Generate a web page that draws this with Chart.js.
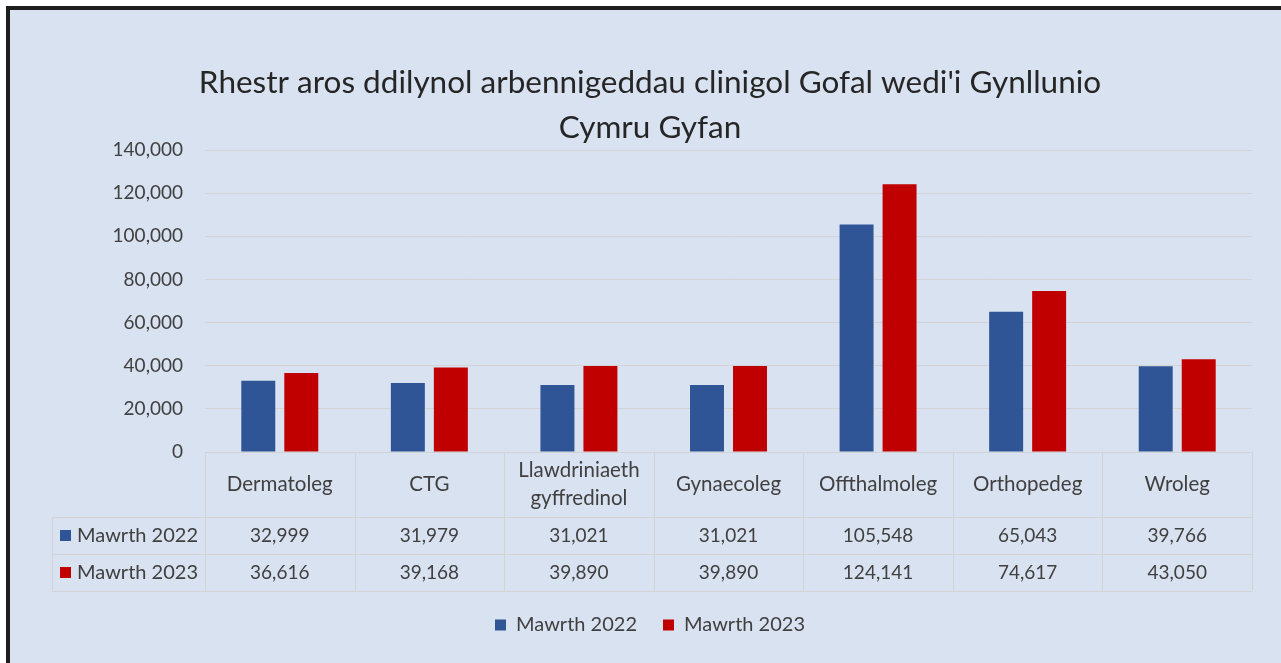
<!DOCTYPE html>
<html>
<head>
<meta charset="utf-8">
<script src="https://cdn.jsdelivr.net/npm/chart.js@4.4.1/dist/chart.umd.min.js"></script>
<style>
    html, body { margin: 0; padding: 0; background: #ffffff; overflow: hidden; }
    #frame {
        position: absolute; left: 6px; top: 6px; width: 1300px; height: 700px;
        border: 4px solid #1e1e1e; background: #d9e2f0;
    }
    #chart { position: absolute; left: 0; top: 0; }
</style>
</head>
<body>
<div id="frame"></div>
<canvas id="chart" width="1281" height="663"></canvas>
<script>
"use strict";

// data
const categories = ['Dermatoleg', 'CTG', ['Llawdriniaeth', 'gyffredinol'], 'Gynaecoleg', 'Offthalmoleg', 'Orthopedeg', 'Wroleg'];
const seriesNames = ['Mawrth 2022', 'Mawrth 2023'];
const mawrth2022 = [32999, 31979, 31021, 31021, 105548, 65043, 39766];
const mawrth2023 = [36616, 39168, 39890, 39890, 124141, 74617, 43050];
const titleLines = ['Rhestr aros ddilynol arbennigeddau clinigol Gofal wedi\'i Gynllunio', 'Cymru Gyfan'];

const blue = '#2f5597';
const red = '#c00000';
const textColor = '#404040';
const titleColor = '#262626';
const lineColor = '#d3d3d6';
const fontFamily = 'Lato, "Noto Sans", sans-serif';

const fmt = v => v.toLocaleString('en-US');

// data table under the x axis (Excel style)
const dataTable = {
    id: 'dataTable',
    afterDraw(chart) {
        const ctx = chart.ctx;
        const x = chart.scales.x;
        const top = chart.chartArea.bottom;
        const colW = x.width / categories.length;
        const headBottom = top + 65;
        const rowH = 37;
        const labelLeft = 52;
        const rows = [mawrth2022, mawrth2023];
        const colors = [blue, red];

        ctx.save();
        ctx.strokeStyle = lineColor;
        ctx.lineWidth = 1;
        ctx.beginPath();
        // vertical lines of the columns
        for (let i = 0; i <= categories.length; i++) {
            const px = Math.round(x.left + i * colW) + 0.5;
            ctx.moveTo(px, top);
            ctx.lineTo(px, headBottom + rowH * 2);
        }
        // horizontal lines
        for (let r = 0; r <= 2; r++) {
            const py = Math.round(headBottom + r * rowH) + 0.5;
            ctx.moveTo(labelLeft, py);
            ctx.lineTo(x.right, py);
        }
        ctx.moveTo(labelLeft + 0.5, headBottom);
        ctx.lineTo(labelLeft + 0.5, headBottom + rowH * 2);
        ctx.stroke();

        ctx.fillStyle = textColor;
        ctx.textAlign = 'center';
        ctx.textBaseline = 'middle';
        categories.forEach((cat, i) => {
            const cx = x.getPixelForValue(i);
            const lines = Array.isArray(cat) ? cat : [cat];
            const mid = (top + headBottom) / 2;
            ctx.font = '20.5px ' + fontFamily;
            lines.forEach((line, k) => {
                ctx.fillText(line, cx, mid + (k - (lines.length - 1) / 2) * 28);
            });
            ctx.font = '19px ' + fontFamily;
            rows.forEach((row, r) => {
                ctx.fillText(fmt(row[i]), cx, headBottom + rowH * r + rowH / 2);
            });
        });

        ctx.textAlign = 'left';
        ctx.font = '20px ' + fontFamily;
        rows.forEach((row, r) => {
            const cy = headBottom + rowH * r + rowH / 2;
            ctx.fillStyle = colors[r];
            ctx.fillRect(60, cy - 5.5, 11, 11);
            ctx.fillStyle = textColor;
            ctx.fillText(seriesNames[r], 77, cy);
        });
        ctx.restore();
    }
};

const chart = new Chart(document.getElementById('chart'), {
    type: 'bar',
    data: {
        labels: categories,
        datasets: [
            { label: seriesNames[0], data: mawrth2022, backgroundColor: blue },
            { label: seriesNames[1], data: mawrth2023, backgroundColor: red }
        ]
    },
    options: {
        responsive: false,
        animation: false,
        devicePixelRatio: 1,
        datasets: {
            bar: { categoryPercentage: 0.575, barPercentage: 0.79 }
        },
        layout: { padding: { left: 48, right: 29, top: 0, bottom: 18 } },
        scales: {
            x: {
                grid: { display: false },
                border: { display: false },
                ticks: { display: false },
                afterFit(scale) { scale.height = 137; }
            },
            y: {
                min: 0,
                max: 140000,
                ticks: {
                    stepSize: 20000,
                    padding: 22,
                    color: textColor,
                    font: { size: 19, family: fontFamily },
                    callback: v => fmt(v)
                },
                grid: { color: lineColor, drawTicks: false },
                border: { display: false },
                afterFit(scale) { scale.width = 157; }
            }
        },
        plugins: {
            title: {
                display: true,
                text: titleLines,
                color: titleColor,
                font: { size: 31.5, family: fontFamily, weight: 'normal', lineHeight: 1.43 },
                padding: { top: 60, bottom: 0 }
            },
            legend: {
                position: 'bottom',
                labels: {
                    boxWidth: 11,
                    boxHeight: 11,
                    padding: 26,
                    color: textColor,
                    font: { size: 20, family: fontFamily }
                }
            },
            tooltip: { enabled: false }
        }
    },
    plugins: [dataTable]
});
</script>
</body>
</html>
